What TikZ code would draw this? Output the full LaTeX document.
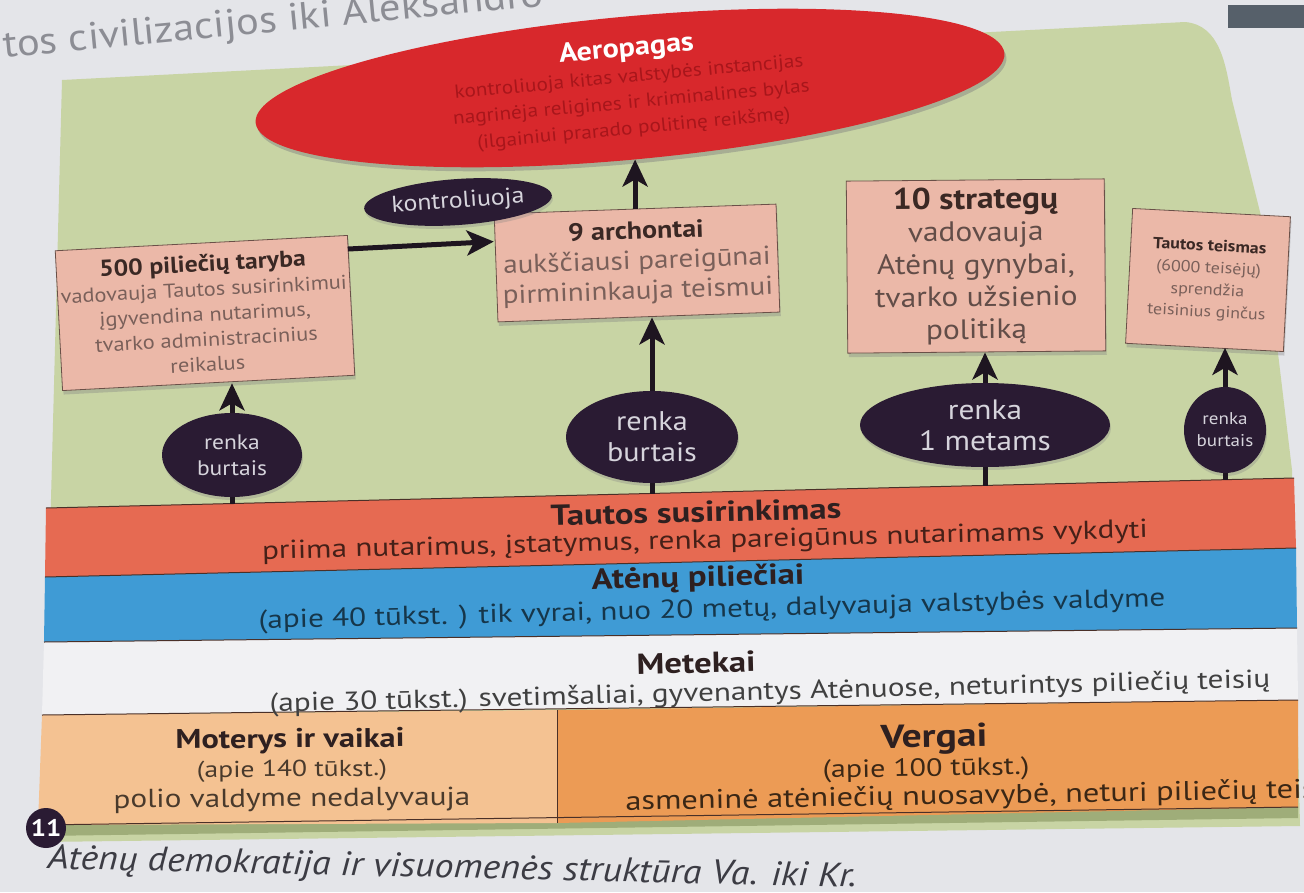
\documentclass[tikz,border=0pt]{standalone}
\usepackage{fontspec}
\setmainfont{PT Sans}[FakeStretch=1.12]
\newfontfamily\bandfont{PT Sans}[FakeStretch=1.2]
\usetikzlibrary{shapes.geometric,arrows.meta,shadows,calc}
\definecolor{page}{HTML}{E4E5E9}
\definecolor{topgray}{HTML}{8C8D94}
\definecolor{panel}{HTML}{C8D4A4}
\definecolor{panelshadow}{HTML}{8E9C66}
\definecolor{aerofill}{HTML}{D8282C}
\definecolor{aerotext}{HTML}{A8161B}
\definecolor{pinkbox}{HTML}{EBB8A8}
\definecolor{boxborder}{HTML}{6A5048}
\definecolor{boxtext}{HTML}{7A605A}
\definecolor{boxtitle}{HTML}{3A2824}
\definecolor{oval}{HTML}{2A1B33}
\definecolor{ovaltext}{HTML}{D6D4DC}
\definecolor{arrowc}{HTML}{1E1520}
\definecolor{tautos}{HTML}{E66A52}
\definecolor{pilieciai}{HTML}{3F9BD5}
\definecolor{metekai}{HTML}{F1F1F3}
\definecolor{moterys}{HTML}{F4C292}
\definecolor{vergai}{HTML}{EC9B55}
\definecolor{bandline}{HTML}{4A3028}
\definecolor{bandtext}{HTML}{2E2020}
\definecolor{captiontext}{HTML}{3C3C44}
\definecolor{cornerobj}{HTML}{56606A}
\newcommand\myfs[2]{\fontsize{#1}{#2}\selectfont}
\tikzset{
  pinkbox/.style={draw=boxborder, line width=0.8pt, fill=pinkbox, align=center, inner sep=3pt,
    text=boxtext, drop shadow={shadow xshift=1pt, shadow yshift=-4pt, opacity=0.35}},
  darkoval/.style={ellipse, fill=oval, text=ovaltext, align=center, inner sep=0pt,
    drop shadow={shadow xshift=1pt, shadow yshift=-3pt, opacity=0.3}},
  arr/.style={draw=arrowc, line width=5pt, -{Stealth[length=27pt,width=25pt,inset=7pt]}},
  stem/.style={draw=arrowc, line width=5pt},
  bandline/.style={draw=bandline, line width=1pt},
  bandtitle/.style={font=\bandfont\bfseries\myfs{29}{31}, text=bandtext, rotate=1.4},
  bandsub/.style={font=\bandfont\myfs{26}{30}, rotate=1.4},
}
\begin{document}
\begin{tikzpicture}[x=1pt,y=-1pt]
\useasboundingbox (0,0) rectangle (1304,892);
\fill[page] (0,0) rectangle (1304,892);
% header text of the page
\node[anchor=base west, rotate=5.5, text=topgray, font=\myfs{38}{40}, inner sep=0pt] (header) at (4,58) {tos civilizacijos iki Aleksandro};
% object at the top right corner
\fill[cornerobj] (1228,5) rectangle (1304,28);
% green panel
\fill[panel] (62,80) -- (1185,22) to[out=-5,in=100] (1232,100) -- (1262,220) -- (1292,470) -- (1300,826) -- (42,842) -- cycle;
% shadow under the bands
\fill[panelshadow!70!panel] (38,825) -- (1298,807) -- (1298,818) -- (40,836) -- cycle;

% ---------------- bands ----------------
\fill[tautos] (46,508) -- (1294,478) -- (1296,548) -- (45,577) -- cycle;
\fill[pilieciai] (45,577) -- (1296,548) -- (1297,628) -- (44,642) -- cycle;
\fill[metekai] (44,642) -- (1297,628) -- (1298,700) -- (42,715) -- cycle;
\fill[moterys] (42,715) -- (557,710) -- (557,823) -- (38,825) -- cycle;
\fill[vergai] (557,710) -- (1298,700) -- (1298,807) -- (557,823) -- cycle;
\draw[bandline] (46,508) -- (1294,478);
\draw[bandline] (45,577) -- (1296,548);
\draw[bandline] (44,642) -- (1297,628);
\draw[bandline] (42,715) -- (1298,700);
\draw[bandline] (557,710) -- (557,823);
\draw[bandline] (38,825) -- (1298,807);

\node[bandtitle] (tsT) at (696,512) {Tautos susirinkimas};
\node[bandsub, text=tautos!30!black] (tsS) at (705,542) {priima nutarimus, įstatymus, renka pareigūnus nutarimams vykdyti};
\node[bandtitle] (apT) at (698,579) {Atėnų piliečiai};
\node[bandsub, text=pilieciai!35!black] (apS) at (712,611) {(apie 40 tūkst. ) tik vyrai, nuo 20 metų, dalyvauja valstybės valdyme};
\node[bandtitle] (meT) at (696,663) {Metekai};
\node[bandsub, text=black!75] (meS) at (770,693) {(apie 30 tūkst.) svetimšaliai, gyvenantys Atėnuose, neturintys piliečių teisių};
\node[font=\bandfont\bfseries\myfs{27}{30}, text=bandtext, rotate=0.5] (mvT) at (290,741) {Moterys ir vaikai};
\node[font=\bandfont\myfs{23}{28}, text=moterys!30!black, rotate=0.5] (mvS1) at (292,771) {(apie 140 tūkst.)};
\node[font=\bandfont\myfs{26}{28}, text=moterys!30!black, rotate=0.5] (mvS2) at (292,800) {polio valdyme nedalyvauja};
\node[font=\bandfont\bfseries\myfs{33}{34}, text=bandtext, rotate=1] (vgT) at (934,739) {Vergai};
\node[font=\bandfont\myfs{25}{30}, text=vergai!25!black, rotate=1] (vgS1) at (926,770) {(apie 100 tūkst.)};
\node[font=\bandfont\myfs{27}{30}, text=vergai!25!black, rotate=1, anchor=west] (vgS2) at (622,803) {asmeninė atėniečių nuosavybė, neturi piliečių teisių};

% ---------------- Aeropagas ----------------
\node[ellipse, fill=aerofill, rotate=5.3, minimum width=752pt, minimum height=132pt, inner sep=0pt, align=center,
  text=aerotext, font=\myfs{19}{26},
  drop shadow={shadow xshift=2pt, shadow yshift=-4pt, opacity=0.45}] (aero) at (630,88)
  {{\color{white}\bfseries\myfs{27}{29}Aeropagas}\\kontroliuoja kitas valstybės instancijas\\nagrinėja religines ir kriminalines bylas\\(ilgainiui prarado politinę reikšmę)};

% ---------------- boxes ----------------
\node[pinkbox, rotate=3, minimum width=292pt, minimum height=140pt, font=\myfs{20}{25}] (taryba) at (205,313)
  {{\color{boxtitle}\bfseries\myfs{23}{25}500 piliečių taryba}\\vadovauja Tautos susirinkimui\\įgyvendina nutarimus,\\tvarko administracinius\\reikalus};
\node[pinkbox, rotate=2, minimum width=282pt, minimum height=108pt, font=\myfs{26}{30}] (archontai) at (637,263)
  {{\color{boxtitle}\bfseries\myfs{25}{30}9 archontai}\\aukščiausi pareigūnai\\pirmininkauja teismui};
\node[pinkbox, rotate=0.5, minimum width=258pt, minimum height=172pt, font=\myfs{28}{32.5}, text=boxtext!80!black] (strategu) at (976,266)
  {{\color{boxtitle}\bfseries\myfs{30}{32.5}10 strategų}\\vadovauja\\Atėnų gynybai,\\tvarko užsienio\\politiką};
\node[pinkbox, rotate=-3, minimum width=158pt, minimum height=135pt, font=\myfs{16}{22}] (teismas) at (1208,280)
  {{\color{boxtitle}\bfseries Tautos teismas}\\(6000 teisėjų)\\sprendžia\\teisinius ginčus};

% ---------------- dark ovals ----------------
\node[darkoval, rotate=4, minimum width=172pt, minimum height=46pt, font=\myfs{23}{24}] (kontrol) at (458,202) {kontroliuoja};
\node[darkoval, minimum width=140pt, minimum height=84pt, font=\myfs{21}{26}] (rb1) at (232,455) {renka\\burtais};
\node[darkoval, minimum width=172pt, minimum height=92pt, font=\myfs{27}{31}] (rb2) at (652,437) {renka\\burtais};
\node[darkoval, minimum width=250pt, minimum height=84pt, font=\myfs{28}{31}] (rb3) at (985,425) {renka\\1 metams};
\node[darkoval, minimum width=82pt, minimum height=86pt, font=\myfs{17}{22}] (rb4) at (1225,430) {renka\\burtais};

% band anchor coordinates
\coordinate (t1) at (232,504);
\coordinate (t2) at (652,494);
\coordinate (t3) at (985,486);
\coordinate (t4) at (1225,480);

% ---------------- connectors ----------------
\draw[stem] (rb1.south) -- (t1);
\draw[stem] (rb2.south) -- (t2);
\draw[stem] (rb3.south) -- (t3);
\draw[stem] (rb4.south) -- (t4);
\draw[arr] (rb1.north) -- (rb1.north |- taryba.south);
\draw[arr] (rb2.north) -- (rb2.north |- archontai.south);
\draw[arr] (rb3.north) -- (rb3.north |- strategu.south);
\draw[arr] (rb4.north) -- (rb4.north |- teismas.south);
\draw[arr] (archontai.north) -- (archontai.north |- aero.south);
\draw[arr] ($(taryba.north east)+(0,14)$) -- ($(archontai.north west)+(0,28)$);

% ---------------- figure number and caption ----------------
\node[circle, fill=oval, minimum size=40pt, inner sep=0pt, text=white, font=\bfseries\myfs{24}{24}] (num) at (46,828) {11};
\node[anchor=west, rotate=-1.3, text=captiontext, font=\itshape\myfs{34}{36}] (caption) at (44,860) {Atėnų demokratija ir visuomenės struktūra Va. iki Kr.};
\end{tikzpicture}
\end{document}
